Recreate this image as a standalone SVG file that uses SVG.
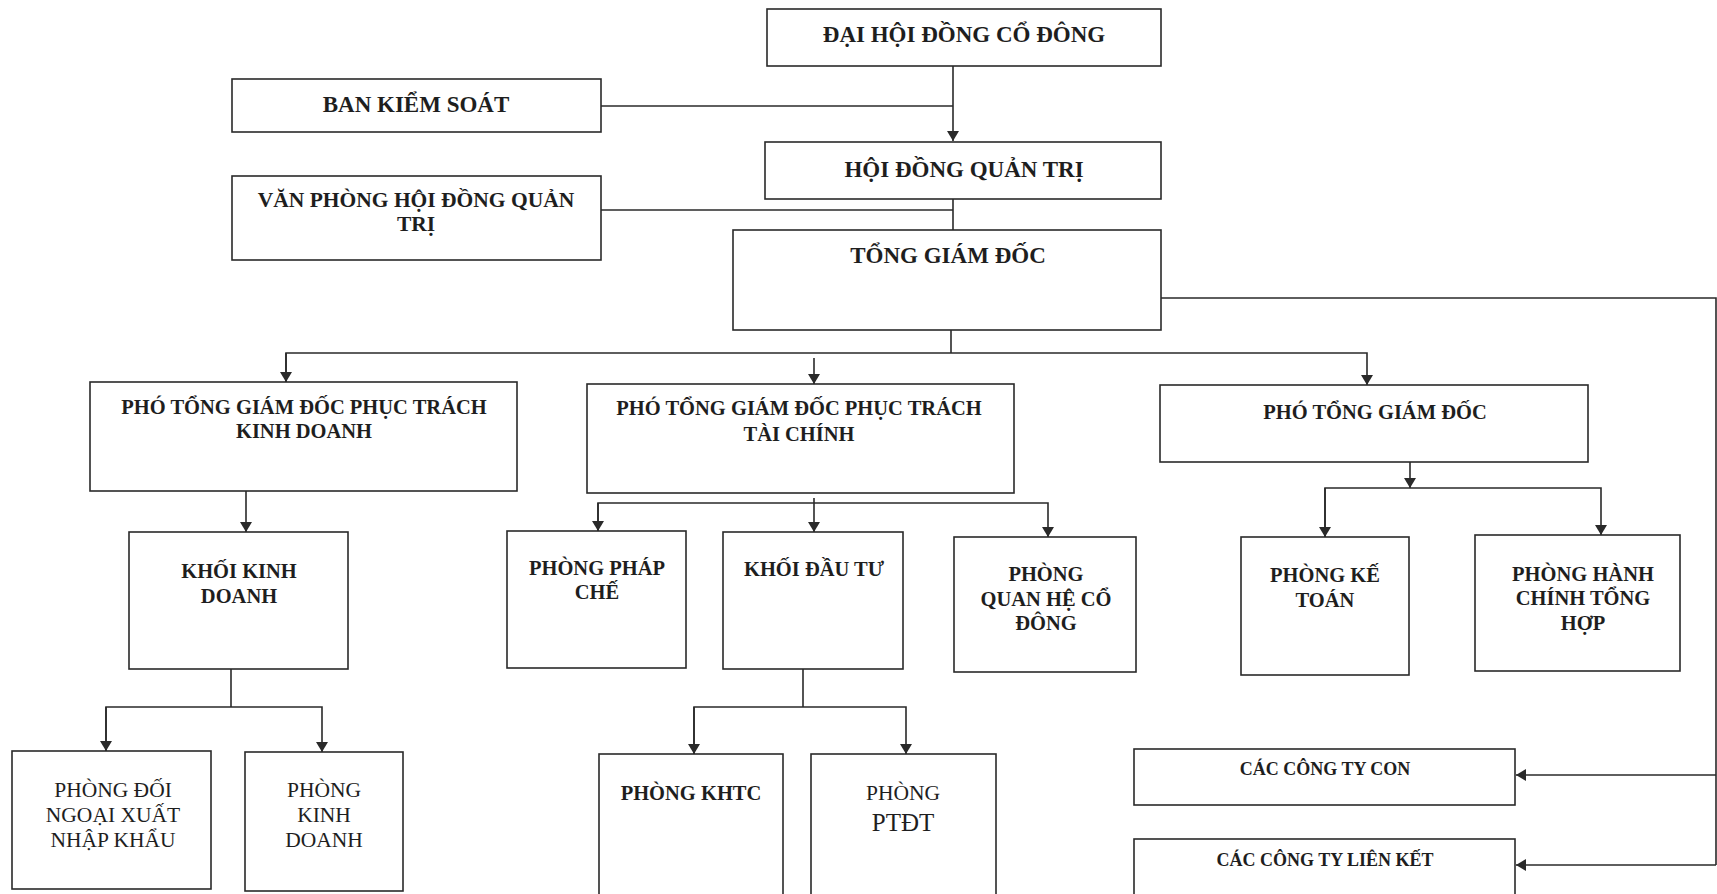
<svg xmlns="http://www.w3.org/2000/svg" width="1717" height="894" viewBox="0 0 1717 894">
<style>
.box{fill:#fff;stroke:#2a2a2a;stroke-width:1.6}
.t{font-family:"Liberation Serif","Times New Roman",serif;font-weight:bold;font-size:20.5px;fill:#1e1e1e;text-anchor:middle}
.b{font-size:23px}
.s{font-size:18px}
.r{font-weight:normal;font-size:21.5px}
.ln{fill:none;stroke:#2a2a2a;stroke-width:1.6}
</style>
<defs>
<marker id="ah" viewBox="0 0 10 12" refX="10" refY="6" markerWidth="10" markerHeight="12" markerUnits="userSpaceOnUse" orient="auto">
<path d="M0,0 L10,6 L0,12 Z" fill="#2a2a2a"/>
</marker>
</defs>
<rect width="1717" height="894" fill="#fff"/>
<g id="connectors">
<path class="ln" d="M953,66 V141" marker-end="url(#ah)"/>
<path class="ln" d="M601,106 H953"/>
<path class="ln" d="M953,199 V230"/>
<path class="ln" d="M601,210 H953"/>
<path class="ln" d="M1161,298 H1716 V865"/>
<path class="ln" d="M1716,775 H1516" marker-end="url(#ah)"/>
<path class="ln" d="M1716,865 H1516" marker-end="url(#ah)"/>
<path class="ln" d="M951,330 V353"/>
<path class="ln" d="M286,382 V353 H1367 V385" marker-end="url(#ah)"/>
<path class="ln" d="M286,353 V382" marker-end="url(#ah)"/>
<path class="ln" d="M814,358 V384" marker-end="url(#ah)"/>
<path class="ln" d="M246,491 V532" marker-end="url(#ah)"/>
<path class="ln" d="M814,498 V532" marker-end="url(#ah)"/>
<path class="ln" d="M598,531 V503 H1048 V537" marker-end="url(#ah)"/>
<path class="ln" d="M598,503 V531" marker-end="url(#ah)"/>
<path class="ln" d="M1410,462 V488" marker-end="url(#ah)"/>
<path class="ln" d="M1325,537 V488 H1601 V535" marker-end="url(#ah)"/>
<path class="ln" d="M1325,488 V537" marker-end="url(#ah)"/>
<path class="ln" d="M231,669 V707"/>
<path class="ln" d="M106,751 V707 H322 V752" marker-end="url(#ah)"/>
<path class="ln" d="M106,707 V751" marker-end="url(#ah)"/>
<path class="ln" d="M803,669 V707"/>
<path class="ln" d="M694,754 V707 H906 V754" marker-end="url(#ah)"/>
<path class="ln" d="M694,707 V754" marker-end="url(#ah)"/>
</g>
<g id="dhdcd"><rect class="box" x="767" y="9" width="394" height="57"/><text class="t b" x="964" y="42">ĐẠI HỘI ĐỒNG CỔ ĐÔNG</text></g>
<g id="bks"><rect class="box" x="232" y="79" width="369" height="53"/><text class="t b" x="416" y="112">BAN KIỂM SOÁT</text></g>
<g id="hdqt"><rect class="box" x="765" y="142" width="396" height="57"/><text class="t b" x="964" y="177">HỘI ĐỒNG QUẢN TRỊ</text></g>
<g id="vphdqt"><rect class="box" x="232" y="176" width="369" height="84"/><text class="t" x="416" y="207" style="font-size:21.5px">VĂN PHÒNG HỘI ĐỒNG QUẢN</text><text class="t" x="416" y="231" style="font-size:21.5px">TRỊ</text></g>
<g id="tgd"><rect class="box" x="733" y="230" width="428" height="100"/><text class="t b" x="948" y="263">TỔNG GIÁM ĐỐC</text></g>
<g id="ptgd-kd"><rect class="box" x="90" y="382" width="427" height="109"/><text class="t" x="304" y="414">PHÓ TỔNG GIÁM ĐỐC PHỤC TRÁCH</text><text class="t" x="304" y="438">KINH DOANH</text></g>
<g id="ptgd-tc"><rect class="box" x="587" y="384" width="427" height="109"/><text class="t" x="799" y="415">PHÓ TỔNG GIÁM ĐỐC PHỤC TRÁCH</text><text class="t" x="799" y="441">TÀI CHÍNH</text></g>
<g id="ptgd"><rect class="box" x="1160" y="385" width="428" height="77"/><text class="t" x="1375" y="419">PHÓ TỔNG GIÁM ĐỐC</text></g>
<g id="khoi-kd"><rect class="box" x="129" y="532" width="219" height="137"/><text class="t" x="239" y="578">KHỐI KINH</text><text class="t" x="239" y="603">DOANH</text></g>
<g id="phap-che"><rect class="box" x="507" y="531" width="179" height="137"/><text class="t" x="597" y="575">PHÒNG PHÁP</text><text class="t" x="597" y="599">CHẾ</text></g>
<g id="khoi-dt"><rect class="box" x="723" y="532" width="180" height="137"/><text class="t" x="814" y="576">KHỐI ĐẦU TƯ</text></g>
<g id="qhcd"><rect class="box" x="954" y="537" width="182" height="135"/><text class="t" x="1046" y="581">PHÒNG</text><text class="t" x="1046" y="606">QUAN HỆ CỔ</text><text class="t" x="1046" y="630">ĐÔNG</text></g>
<g id="ke-toan"><rect class="box" x="1241" y="537" width="168" height="138"/><text class="t" x="1325" y="582">PHÒNG KẾ</text><text class="t" x="1325" y="607">TOÁN</text></g>
<g id="hcth"><rect class="box" x="1475" y="535" width="205" height="136"/><text class="t" x="1583" y="581">PHÒNG HÀNH</text><text class="t" x="1583" y="605">CHÍNH TỔNG</text><text class="t" x="1583" y="630">HỢP</text></g>
<g id="dnxnk"><rect class="box" x="12" y="751" width="199" height="138"/><text class="t r" x="113" y="797">PHÒNG ĐỐI</text><text class="t r" x="113" y="822">NGOẠI XUẤT</text><text class="t r" x="113" y="847">NHẬP KHẨU</text></g>
<g id="pkd"><rect class="box" x="245" y="752" width="158" height="139"/><text class="t r" x="324" y="797">PHÒNG</text><text class="t r" x="324" y="822">KINH</text><text class="t r" x="324" y="847">DOANH</text></g>
<g id="khtc"><rect class="box" x="599" y="754" width="184" height="142"/><text class="t" x="691" y="800">PHÒNG KHTC</text></g>
<g id="ptdt"><rect class="box" x="811" y="754" width="185" height="142"/><text class="t r" x="903" y="800">PHÒNG</text><text class="t r" x="903" y="831" style="font-size:25px">PTĐT</text></g>
<g id="cty-con"><rect class="box" x="1134" y="749" width="381" height="56"/><text class="t s" x="1325" y="775">CÁC CÔNG TY CON</text></g>
<g id="cty-lk"><rect class="box" x="1134" y="839" width="381" height="60"/><text class="t s" x="1325" y="866">CÁC CÔNG TY LIÊN KẾT</text></g>
</svg>
